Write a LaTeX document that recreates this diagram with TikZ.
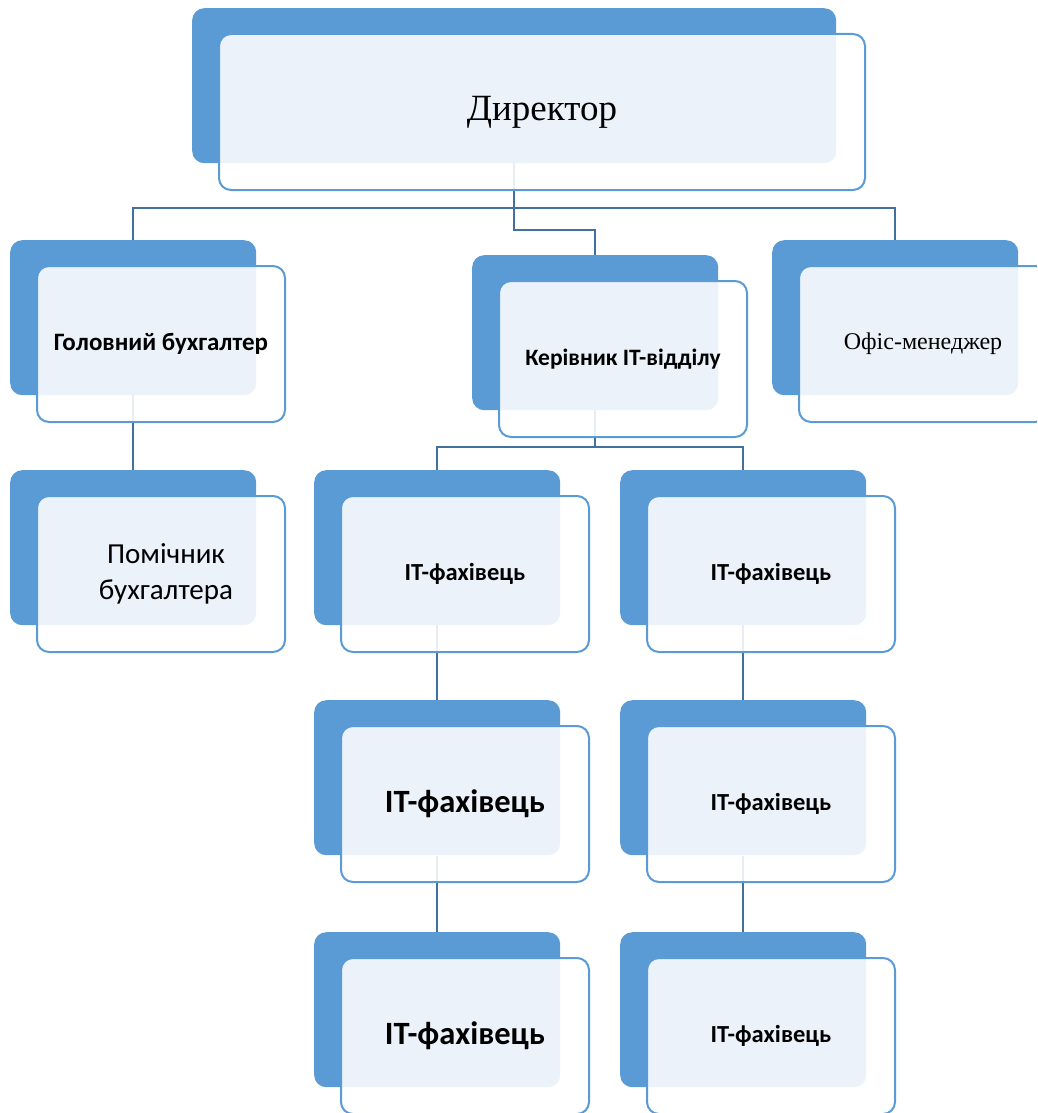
\documentclass[tikz,border=0pt]{standalone}
\usepackage{fontspec}
\setmainfont{Carlito}
\newfontfamily\timesfont{Liberation Serif}
\usetikzlibrary{positioning}

\definecolor{boxblue}{HTML}{5B9BD5}
\definecolor{lineblue}{HTML}{41719C}

\tikzset{
  backbox/.style={rectangle, rounded corners=12pt, fill=boxblue, anchor=north west,
    minimum height=155pt, inner sep=0pt},
  frontbox/.style={rectangle, rounded corners=12pt, draw=boxblue, line width=2pt,
    fill=white, fill opacity=0.88, text opacity=1, anchor=north west,
    minimum height=156pt, align=center, inner sep=0pt},
  conn/.style={draw=lineblue, line width=2pt}
}

% one unit of the chart: blue card behind, light card in front
\newcommand{\orgunit}[6]{%
  \node[backbox, minimum width=#4] (#1B) at (#2,#3) {};
  \node[frontbox, minimum width=#4+2, font=#5] (#1) at ([shift={(26,25)}]#1B.north west) {#6};
}

\begin{document}
\begin{tikzpicture}[x=1pt, y=-1pt]
  \useasboundingbox (0,0) rectangle (1037,1113);
  \clip (0,0) rectangle (1037,1113);

  % Connectors (drawn first, the cards cover them)
  \coordinate (dirS) at (514,162);
  \coordinate (glavN) at (133,240);
  \coordinate (officeN) at (895,240);
  \coordinate (headN) at (595,255);
  \coordinate (headS) at (595,410);
  \coordinate (itAN) at (437,470);
  \coordinate (itBN) at (743,470);
  \draw[conn] (dirS) -- ++(0,46) -| (glavN);
  \draw[conn] (dirS) -- ++(0,46) -| (officeN);
  \draw[conn] (dirS) -- ++(0,68) -| (headN);
  \draw[conn] (headS) -- ++(0,37) -| (itAN);
  \draw[conn] (headS) -- ++(0,37) -| (itBN);
  \draw[conn] (133,394) -- (133,470);
  \draw[conn] (437,625) -- (437,700);
  \draw[conn] (743,625) -- (743,700);
  \draw[conn] (437,856) -- (437,932);
  \draw[conn] (743,856) -- (743,932);

  % Top
  \orgunit{dir}{192}{8}{644}{\timesfont\fontsize{37}{44}\selectfont}{Директор}

  % Second level
  \orgunit{glav}{10}{240}{246}{\bfseries\fontsize{25}{30}\selectfont}{Головний бухгалтер}
  \orgunit{head}{472}{255}{246}{\bfseries\fontsize{23.5}{28}\selectfont}{Керівник IT-відділу}
  \orgunit{office}{772}{240}{246}{\timesfont\fontsize{24}{28}\selectfont}{Офіс-менеджер}

  % Third level and below
  \orgunit{help}{10}{470}{246}{\fontsize{29}{36}\selectfont}{\hspace*{10pt}Помічник\\\hspace*{10pt}бухгалтера}
  \orgunit{itA}{314}{470}{246}{\bfseries\fontsize{24.5}{29}\selectfont}{IT-фахівець}
  \orgunit{itB}{620}{470}{246}{\bfseries\fontsize{24.5}{29}\selectfont}{IT-фахівець}
  \orgunit{itC}{314}{700}{246}{\bfseries\fontsize{32.5}{38}\selectfont}{IT-фахівець}
  \orgunit{itD}{620}{700}{246}{\bfseries\fontsize{24.5}{29}\selectfont}{IT-фахівець}
  \orgunit{itE}{314}{932}{246}{\bfseries\fontsize{32.5}{38}\selectfont}{IT-фахівець}
  \orgunit{itF}{620}{932}{246}{\bfseries\fontsize{24.5}{29}\selectfont}{IT-фахівець}
\end{tikzpicture}
\end{document}
